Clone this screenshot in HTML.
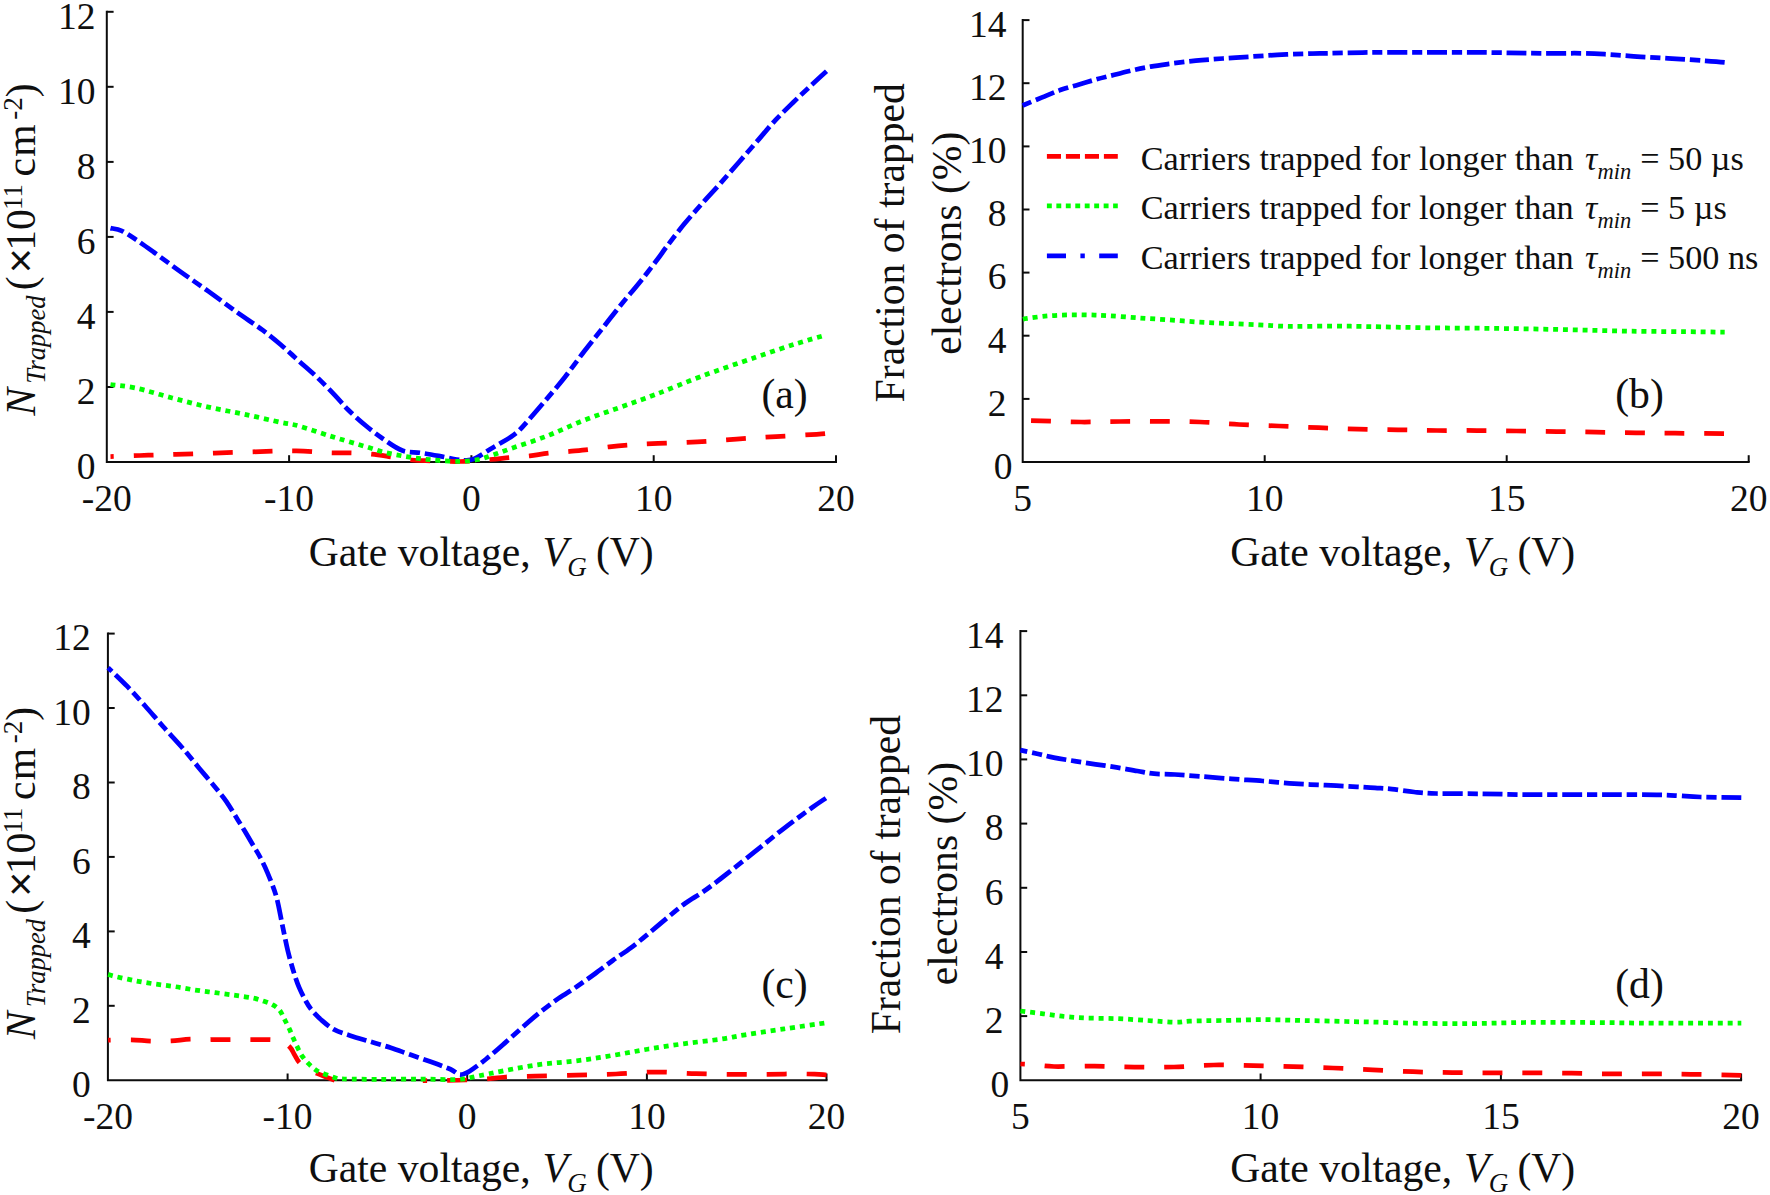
<!DOCTYPE html>
<html lang="en">
<head>
<meta charset="utf-8">
<title>Trapped carriers vs gate voltage</title>
<style>
html,body{margin:0;padding:0;background:#fff;}
body{width:1770px;height:1195px;overflow:hidden;}
svg{display:block;}
svg text{font-family:"Liberation Serif",serif;fill:#0f0f0f;}
</style>
</head>
<body>
<svg width="1770" height="1195" viewBox="0 0 1770 1195">
<rect width="1770" height="1195" fill="#ffffff"/>
<path d="M106.8 11.8 V462.0 H836" fill="none" stroke="#0c0c0c" stroke-width="2.0" stroke-linejoin="miter" stroke-linecap="square"/>
<path d="M289.1 462.0 v-6.8" stroke="#0c0c0c" stroke-width="2.0"/>
<path d="M471.4 462.0 v-6.8" stroke="#0c0c0c" stroke-width="2.0"/>
<path d="M653.7 462.0 v-6.8" stroke="#0c0c0c" stroke-width="2.0"/>
<path d="M836.0 462.0 v-6.8" stroke="#0c0c0c" stroke-width="2.0"/>
<path d="M106.8 387.0 h6.8" stroke="#0c0c0c" stroke-width="2.0"/>
<path d="M106.8 311.9 h6.8" stroke="#0c0c0c" stroke-width="2.0"/>
<path d="M106.8 236.9 h6.8" stroke="#0c0c0c" stroke-width="2.0"/>
<path d="M106.8 161.9 h6.8" stroke="#0c0c0c" stroke-width="2.0"/>
<path d="M106.8 86.8 h6.8" stroke="#0c0c0c" stroke-width="2.0"/>
<path d="M106.8 11.8 h6.8" stroke="#0c0c0c" stroke-width="2.0"/>
<text x="106.8" y="510.9" text-anchor="middle" font-size="37.5">-20</text>
<text x="289.1" y="510.9" text-anchor="middle" font-size="37.5">-10</text>
<text x="471.4" y="510.9" text-anchor="middle" font-size="37.5">0</text>
<text x="653.7" y="510.9" text-anchor="middle" font-size="37.5">10</text>
<text x="836.0" y="510.9" text-anchor="middle" font-size="37.5">20</text>
<text x="95.5" y="478.8" text-anchor="end" font-size="37.5">0</text>
<text x="95.5" y="403.8" text-anchor="end" font-size="37.5">2</text>
<text x="95.5" y="328.7" text-anchor="end" font-size="37.5">4</text>
<text x="95.5" y="253.7" text-anchor="end" font-size="37.5">6</text>
<text x="95.5" y="178.7" text-anchor="end" font-size="37.5">8</text>
<text x="95.5" y="103.6" text-anchor="end" font-size="37.5">10</text>
<text x="95.5" y="28.6" text-anchor="end" font-size="37.5">12</text>
<path d="M110.5 228.1 C112.4 228.6 117.4 228.9 121.7 230.8 C126.0 232.8 130.8 236.2 136.2 239.8 C141.6 243.4 146.7 247.1 154.2 252.5 C161.7 257.9 172.3 265.9 181.4 272.4 C190.5 278.9 199.5 284.9 208.5 291.4 C217.5 297.9 226.6 304.7 235.6 311.2 C244.6 317.7 255.2 324.6 262.7 330.2 C270.2 335.8 274.8 339.6 280.8 344.7 C286.8 349.8 292.9 355.6 298.9 361.0 C304.9 366.4 311.0 371.5 317.0 377.2 C323.0 382.9 329.8 389.9 335.0 395.3 C340.2 400.7 342.9 404.7 348.1 409.8 C353.3 414.9 360.2 421.0 366.2 426.0 C372.2 431.0 378.2 435.5 384.2 439.6 C390.2 443.7 396.3 448.3 402.3 450.5 C408.3 452.7 414.4 451.9 420.4 452.8 C426.4 453.7 432.5 454.8 438.5 455.9 C444.5 457.0 452.2 458.8 456.6 459.5 C461.0 460.2 461.7 460.5 464.7 460.4 C467.7 460.2 469.9 460.7 474.6 458.6 C479.3 456.5 486.7 451.3 492.7 447.7 C498.7 444.1 506.3 439.9 510.8 436.9 C515.3 433.9 516.8 432.6 519.8 429.7 C522.8 426.8 524.4 424.8 528.9 419.7 C533.4 414.6 540.6 406.2 546.6 399.1 C552.6 392.0 558.8 384.9 565.0 377.0 C571.2 369.1 577.6 359.9 583.9 351.7 C590.2 343.5 596.5 335.8 602.8 327.8 C609.1 319.9 615.3 311.7 621.6 304.0 C627.9 296.3 634.1 289.2 640.4 281.4 C646.7 273.6 654.9 262.6 659.2 257.0 C663.5 251.3 661.8 253.1 666.0 247.5 C670.2 241.9 678.5 231.0 684.6 223.6 C690.7 216.2 696.7 209.6 702.7 202.8 C708.7 196.0 714.8 189.7 720.8 182.9 C726.8 176.1 732.9 169.1 738.9 162.2 C744.9 155.3 751.0 148.3 757.0 141.4 C763.0 134.5 769.0 127.1 775.0 120.6 C781.0 114.1 787.1 108.4 793.1 102.5 C799.1 96.6 805.6 90.5 811.2 85.3 C816.8 80.1 824.0 73.5 826.6 71.2" fill="none" stroke="#0000ff" stroke-width="4.75" stroke-dasharray="19.89 4.82 10.25 4.82" stroke-dashoffset="6.03"/>
<path d="M110.5 456.6 C115.4 456.4 129.1 455.9 140.0 455.5 C150.9 455.1 157.2 455.0 175.7 454.4 C194.2 453.8 230.9 452.5 251.0 451.9 C271.1 451.3 283.0 450.6 296.2 450.8 C309.4 451.0 320.8 452.5 330.0 452.8 C339.2 453.1 344.8 452.6 351.7 452.8 C358.6 453.0 365.1 453.4 371.6 454.1 C378.1 454.8 384.0 455.8 390.6 456.8 C397.2 457.8 404.7 459.3 411.4 460.0 C418.1 460.7 422.9 460.6 431.0 460.8 C439.1 461.1 450.2 461.7 460.0 461.5 C469.8 461.3 481.8 460.1 490.0 459.5 C498.2 458.9 502.4 458.3 509.0 457.7 C515.6 457.1 523.2 456.6 529.8 455.9 C536.4 455.1 542.2 453.9 548.8 453.2 C555.4 452.4 563.0 452.0 569.6 451.4 C576.2 450.8 581.9 450.4 588.5 449.6 C595.1 448.8 602.8 447.6 609.3 446.8 C615.8 446.0 619.3 445.6 627.4 445.0 C635.5 444.4 646.4 443.9 658.0 443.4 C669.6 442.9 684.2 442.5 697.3 441.8 C710.4 441.1 723.5 440.0 736.6 439.1 C749.7 438.2 762.7 437.4 776.0 436.6 C789.3 435.8 808.2 434.8 816.6 434.3 C825.0 433.8 824.5 433.7 826.1 433.6" fill="none" stroke="#ff0000" stroke-width="4.75" stroke-dasharray="19.80 19.80" stroke-dashoffset="16.30"/>
<path d="M110.5 384.5 C114.8 385.1 125.9 385.9 136.2 388.1 C146.5 390.4 160.2 394.8 172.3 398.0 C184.4 401.2 196.4 404.4 208.5 407.1 C220.6 409.8 232.5 411.8 244.6 414.3 C256.6 416.9 271.8 420.4 280.8 422.4 C289.9 424.3 290.7 423.7 298.9 426.0 C307.1 428.3 321.8 433.4 330.0 436.0 C338.2 438.6 342.1 439.6 348.1 441.4 C354.1 443.2 360.2 445.0 366.2 446.8 C372.2 448.6 378.2 450.8 384.2 452.3 C390.2 453.8 396.3 454.8 402.3 455.9 C408.3 456.9 414.4 457.9 420.4 458.6 C426.4 459.4 431.9 459.9 438.5 460.4 C445.1 460.8 453.6 461.4 460.2 461.3 C466.8 461.2 472.9 460.6 478.3 459.5 C483.7 458.4 487.3 456.8 492.7 455.0 C498.1 453.2 501.8 451.8 510.8 448.6 C519.9 445.4 535.0 440.7 547.0 436.0 C559.0 431.3 571.1 425.3 583.1 420.6 C595.1 415.9 607.3 411.9 619.3 407.6 C631.3 403.3 641.6 399.8 655.3 394.6 C669.0 389.4 684.7 382.5 701.4 376.3 C718.1 370.1 739.8 362.7 755.6 357.3 C771.4 351.9 784.5 347.4 796.3 343.7 C808.0 340.0 821.1 336.4 826.1 334.9" fill="none" stroke="#00ff00" stroke-width="4.75" stroke-dasharray="4.95 4.88" stroke-dashoffset="0.00"/>
<path d="M1022.7 20.1 V462.0 H1748.7" fill="none" stroke="#0c0c0c" stroke-width="2.0" stroke-linejoin="miter" stroke-linecap="square"/>
<path d="M1264.7 462.0 v-6.8" stroke="#0c0c0c" stroke-width="2.0"/>
<path d="M1506.7 462.0 v-6.8" stroke="#0c0c0c" stroke-width="2.0"/>
<path d="M1748.7 462.0 v-6.8" stroke="#0c0c0c" stroke-width="2.0"/>
<path d="M1022.7 398.9 h6.8" stroke="#0c0c0c" stroke-width="2.0"/>
<path d="M1022.7 335.7 h6.8" stroke="#0c0c0c" stroke-width="2.0"/>
<path d="M1022.7 272.6 h6.8" stroke="#0c0c0c" stroke-width="2.0"/>
<path d="M1022.7 209.5 h6.8" stroke="#0c0c0c" stroke-width="2.0"/>
<path d="M1022.7 146.4 h6.8" stroke="#0c0c0c" stroke-width="2.0"/>
<path d="M1022.7 83.2 h6.8" stroke="#0c0c0c" stroke-width="2.0"/>
<path d="M1022.7 20.1 h6.8" stroke="#0c0c0c" stroke-width="2.0"/>
<text x="1022.7" y="510.6" text-anchor="middle" font-size="37.5">5</text>
<text x="1264.7" y="510.6" text-anchor="middle" font-size="37.5">10</text>
<text x="1506.7" y="510.6" text-anchor="middle" font-size="37.5">15</text>
<text x="1748.7" y="510.6" text-anchor="middle" font-size="37.5">20</text>
<text x="1012.6" y="478.8" text-anchor="end" font-size="37.5">0</text>
<text x="1006.6" y="415.7" text-anchor="end" font-size="37.5">2</text>
<text x="1006.6" y="352.5" text-anchor="end" font-size="37.5">4</text>
<text x="1006.6" y="289.4" text-anchor="end" font-size="37.5">6</text>
<text x="1006.6" y="226.3" text-anchor="end" font-size="37.5">8</text>
<text x="1006.6" y="163.2" text-anchor="end" font-size="37.5">10</text>
<text x="1006.6" y="100.0" text-anchor="end" font-size="37.5">12</text>
<text x="1006.6" y="36.9" text-anchor="end" font-size="37.5">14</text>
<path d="M1022.6 105.5 C1025.8 104.2 1035.8 100.0 1042.1 97.4 C1048.4 94.8 1054.2 92.2 1060.2 90.1 C1066.2 88.0 1072.3 86.5 1078.3 84.7 C1084.3 82.9 1090.4 81.0 1096.4 79.3 C1102.4 77.6 1108.4 76.3 1114.4 74.8 C1120.4 73.3 1126.5 71.7 1132.5 70.3 C1138.5 68.9 1144.6 67.7 1150.6 66.6 C1156.6 65.5 1161.2 64.9 1168.7 63.9 C1176.2 62.9 1186.8 61.6 1195.8 60.7 C1204.8 59.8 1213.9 59.2 1222.9 58.5 C1231.9 57.8 1241.0 57.3 1250.0 56.7 C1259.0 56.1 1268.2 55.4 1277.2 54.9 C1286.2 54.4 1296.0 54.1 1304.3 53.8 C1312.6 53.5 1316.1 53.5 1327.0 53.3 C1337.9 53.1 1354.3 52.6 1369.7 52.4 C1385.1 52.2 1402.8 52.3 1419.4 52.3 C1436.0 52.3 1454.2 52.2 1469.1 52.3 C1484.0 52.4 1496.5 52.6 1508.9 52.8 C1521.3 53.0 1531.7 53.3 1543.7 53.4 C1555.7 53.5 1570.6 53.1 1581.0 53.3 C1591.4 53.4 1597.6 53.8 1605.9 54.3 C1614.2 54.8 1622.4 55.5 1630.7 56.1 C1639.0 56.7 1647.3 57.1 1655.6 57.6 C1663.9 58.1 1672.1 58.6 1680.4 59.1 C1688.7 59.6 1697.9 60.3 1705.3 60.8 C1712.7 61.3 1721.5 62.0 1724.7 62.3" fill="none" stroke="#0000ff" stroke-width="4.75" stroke-dasharray="19.86 4.81 10.23 4.81" stroke-dashoffset="25.57"/>
<path d="M1022.7 420.3 C1025.8 420.4 1031.3 420.5 1041.0 420.8 C1050.7 421.1 1067.8 421.9 1081.0 422.0 C1094.2 422.1 1106.8 421.6 1120.0 421.5 C1133.2 421.4 1146.7 421.3 1160.0 421.4 C1173.3 421.5 1186.8 421.5 1200.0 422.0 C1213.2 422.5 1225.8 423.8 1239.0 424.5 C1252.2 425.2 1265.8 425.5 1279.0 426.0 C1292.2 426.5 1305.3 427.2 1318.5 427.7 C1331.7 428.2 1344.8 428.8 1358.0 429.1 C1371.2 429.5 1384.8 429.6 1398.0 429.8 C1411.2 430.0 1423.8 430.4 1437.0 430.5 C1450.2 430.6 1463.8 430.4 1477.0 430.5 C1490.2 430.6 1503.2 430.8 1516.5 431.0 C1529.8 431.2 1543.3 431.4 1556.6 431.6 C1569.8 431.8 1582.8 431.9 1596.0 432.1 C1609.2 432.3 1622.8 432.6 1636.0 432.8 C1649.2 433.0 1660.3 433.1 1675.0 433.2 C1689.7 433.3 1716.1 433.6 1724.3 433.7" fill="none" stroke="#ff0000" stroke-width="4.75" stroke-dasharray="19.80 19.80" stroke-dashoffset="31.10"/>
<path d="M1023.0 319.4 C1023.7 319.2 1023.1 319.0 1027.2 318.4 C1031.3 317.8 1040.7 316.5 1047.5 315.9 C1054.3 315.3 1061.1 315.1 1067.9 314.9 C1074.7 314.7 1081.4 314.8 1088.2 314.9 C1095.0 315.0 1100.5 315.2 1108.6 315.7 C1116.7 316.2 1127.2 317.1 1137.0 317.8 C1146.8 318.5 1157.3 319.1 1167.5 319.8 C1177.7 320.5 1187.8 321.4 1198.0 322.0 C1208.2 322.6 1218.3 323.0 1228.5 323.5 C1238.7 324.0 1249.5 324.4 1259.0 324.9 C1268.5 325.4 1277.7 326.1 1285.5 326.3 C1293.3 326.5 1296.6 326.3 1305.8 326.3 C1315.0 326.3 1329.7 326.1 1340.4 326.2 C1351.1 326.2 1355.4 326.3 1370.0 326.6 C1384.6 326.9 1406.9 327.5 1427.8 327.8 C1448.7 328.1 1473.0 328.1 1495.6 328.4 C1518.2 328.7 1540.8 329.1 1563.4 329.6 C1586.0 330.1 1608.6 330.8 1631.2 331.2 C1653.8 331.6 1683.4 331.6 1699.0 331.8 C1714.6 332.0 1720.4 332.1 1724.7 332.1" fill="none" stroke="#00ff00" stroke-width="4.75" stroke-dasharray="4.95 4.88" stroke-dashoffset="0.00"/>
<path d="M107.9 633.6 V1080.3 H826.5" fill="none" stroke="#0c0c0c" stroke-width="2.0" stroke-linejoin="miter" stroke-linecap="square"/>
<path d="M287.6 1080.3 v-6.8" stroke="#0c0c0c" stroke-width="2.0"/>
<path d="M467.2 1080.3 v-6.8" stroke="#0c0c0c" stroke-width="2.0"/>
<path d="M646.9 1080.3 v-6.8" stroke="#0c0c0c" stroke-width="2.0"/>
<path d="M826.5 1080.3 v-6.8" stroke="#0c0c0c" stroke-width="2.0"/>
<path d="M107.9 1005.8 h6.8" stroke="#0c0c0c" stroke-width="2.0"/>
<path d="M107.9 931.4 h6.8" stroke="#0c0c0c" stroke-width="2.0"/>
<path d="M107.9 856.9 h6.8" stroke="#0c0c0c" stroke-width="2.0"/>
<path d="M107.9 782.5 h6.8" stroke="#0c0c0c" stroke-width="2.0"/>
<path d="M107.9 708.0 h6.8" stroke="#0c0c0c" stroke-width="2.0"/>
<path d="M107.9 633.6 h6.8" stroke="#0c0c0c" stroke-width="2.0"/>
<text x="107.9" y="1128.9" text-anchor="middle" font-size="37.5">-20</text>
<text x="287.6" y="1128.9" text-anchor="middle" font-size="37.5">-10</text>
<text x="467.2" y="1128.9" text-anchor="middle" font-size="37.5">0</text>
<text x="646.9" y="1128.9" text-anchor="middle" font-size="37.5">10</text>
<text x="826.5" y="1128.9" text-anchor="middle" font-size="37.5">20</text>
<text x="90.8" y="1097.1" text-anchor="end" font-size="37.5">0</text>
<text x="90.8" y="1022.6" text-anchor="end" font-size="37.5">2</text>
<text x="90.8" y="948.2" text-anchor="end" font-size="37.5">4</text>
<text x="90.8" y="873.7" text-anchor="end" font-size="37.5">6</text>
<text x="90.8" y="799.3" text-anchor="end" font-size="37.5">8</text>
<text x="90.8" y="724.8" text-anchor="end" font-size="37.5">10</text>
<text x="90.8" y="650.4" text-anchor="end" font-size="37.5">12</text>
<path d="M108.1 667.7 C111.3 670.8 120.9 679.8 127.1 686.2 C133.3 692.6 139.2 699.2 145.2 706.0 C151.2 712.8 157.3 720.0 163.3 726.8 C169.3 733.6 175.4 739.8 181.4 746.7 C187.4 753.6 193.4 761.2 199.4 768.4 C205.4 775.6 213.0 784.5 217.5 790.1 C222.0 795.7 223.6 797.5 226.6 801.9 C229.6 806.3 232.6 811.5 235.6 816.3 C238.6 821.1 241.6 825.8 244.6 830.8 C247.6 835.8 251.1 841.8 253.7 846.2 C256.3 850.6 257.8 852.7 260.0 857.0 C262.2 861.3 264.5 865.6 267.2 872.1 C269.9 878.6 273.7 887.5 276.2 896.2 C278.7 904.9 280.3 915.3 282.2 924.3 C284.1 933.3 285.8 942.4 287.7 950.2 C289.6 958.0 291.5 964.8 293.4 971.0 C295.3 977.2 296.9 982.2 299.0 987.2 C301.1 992.2 303.7 997.2 305.8 1001.0 C307.9 1004.8 308.9 1006.5 311.5 1009.7 C314.1 1012.9 317.6 1016.7 321.4 1020.0 C325.2 1023.3 329.5 1027.1 334.4 1029.7 C339.2 1032.3 344.5 1033.7 350.5 1035.7 C356.5 1037.7 363.9 1039.7 370.6 1041.7 C377.3 1043.7 384.0 1045.6 390.7 1047.8 C397.4 1050.0 404.0 1052.5 410.7 1054.8 C417.4 1057.1 424.2 1059.4 430.8 1061.8 C437.4 1064.2 445.6 1067.2 450.5 1069.3 C455.4 1071.4 456.7 1074.3 459.9 1074.6 C463.1 1074.9 465.1 1073.8 469.5 1071.2 C473.9 1068.6 480.4 1063.6 486.2 1059.0 C492.0 1054.4 498.2 1048.9 504.2 1043.6 C510.2 1038.3 516.3 1032.7 522.3 1027.4 C528.3 1022.1 534.4 1016.8 540.4 1012.0 C546.4 1007.2 552.5 1002.6 558.5 998.4 C564.5 994.2 570.6 990.8 576.6 986.7 C582.6 982.6 588.6 978.4 594.6 974.0 C600.6 969.6 606.7 964.9 612.7 960.5 C618.7 956.1 624.8 952.3 630.8 947.8 C636.8 943.3 642.9 938.3 648.9 933.3 C654.9 928.3 661.0 923.0 667.0 918.0 C673.0 913.0 679.0 907.9 685.0 903.5 C691.0 899.1 697.1 896.0 703.1 891.8 C709.1 887.6 712.4 885.1 720.9 878.5 C729.4 871.9 743.6 860.7 754.2 852.2 C764.8 843.8 775.0 835.2 784.7 827.8 C794.4 820.3 805.3 812.5 812.2 807.5 C819.1 802.5 823.6 799.7 825.9 798.1" fill="none" stroke="#0000ff" stroke-width="4.75" stroke-dasharray="19.99 4.85 10.30 4.85" stroke-dashoffset="29.79"/>
<path d="M108.1 1040.2 C111.9 1040.1 124.1 1039.7 131.2 1039.8 C138.3 1039.9 144.1 1040.9 150.8 1041.1 C157.5 1041.3 164.6 1041.1 171.2 1040.8 C177.8 1040.5 183.5 1039.4 190.2 1039.2 C196.9 1039.0 204.4 1039.5 211.2 1039.5 C218.0 1039.5 224.1 1039.5 230.8 1039.5 C237.5 1039.5 244.5 1039.7 251.2 1039.7 C257.9 1039.7 265.8 1039.5 270.8 1039.7 C275.8 1039.9 277.8 1039.6 281.0 1040.8 C284.2 1042.0 287.6 1044.7 289.8 1047.0 C292.1 1049.3 292.9 1052.1 294.5 1054.7 C296.1 1057.3 297.2 1060.2 299.3 1062.5 C301.4 1064.8 304.1 1067.0 307.0 1068.8 C309.9 1070.6 312.3 1071.5 316.9 1073.4 C321.5 1075.3 331.7 1079.2 334.6 1080.3" fill="none" stroke="#ff0000" stroke-width="4.75" stroke-dasharray="19.94 19.94" stroke-dashoffset="17.12"/>
<path d="M422.8 1080.6 C426.8 1080.6 439.7 1080.5 446.9 1080.4 C454.1 1080.3 459.4 1080.2 466.0 1080.0 C472.6 1079.8 479.5 1079.4 486.2 1078.9 C492.9 1078.4 497.9 1077.5 506.0 1077.0 C514.1 1076.5 523.3 1076.5 535.0 1076.2 C546.7 1075.9 562.5 1075.6 576.0 1075.2 C589.5 1074.8 602.7 1074.5 616.0 1074.0 C629.3 1073.5 642.7 1072.0 656.0 1072.0 C669.3 1072.0 682.7 1073.3 696.0 1073.7 C709.3 1074.1 724.2 1074.3 736.0 1074.4 C747.8 1074.5 755.2 1074.4 767.0 1074.3 C778.8 1074.2 796.8 1073.7 806.7 1073.8 C816.6 1073.9 823.3 1074.8 826.6 1075.0" fill="none" stroke="#ff0000" stroke-width="4.75" stroke-dasharray="19.99 19.99" stroke-dashoffset="15.65"/>
<path d="M108.1 974.4 C109.2 974.7 110.6 975.4 114.9 976.4 C119.2 977.4 127.4 979.2 133.9 980.5 C140.4 981.8 147.4 982.9 154.2 983.9 C161.0 984.9 167.8 985.6 174.6 986.6 C181.4 987.6 188.1 989.0 194.9 990.0 C201.7 991.0 208.5 991.8 215.3 992.7 C222.1 993.6 229.3 994.5 235.6 995.4 C241.9 996.3 248.4 997.1 253.2 998.1 C257.9 999.1 260.8 1000.2 264.1 1001.3 C267.4 1002.4 270.3 1003.4 272.9 1004.9 C275.5 1006.4 277.8 1007.9 279.7 1010.3 C281.6 1012.7 282.8 1016.2 284.4 1019.2 C286.0 1022.2 287.7 1025.4 289.2 1028.6 C290.7 1031.8 291.8 1035.0 293.2 1038.1 C294.6 1041.1 295.8 1044.0 297.3 1046.9 C298.8 1049.9 300.1 1053.0 302.0 1055.8 C303.9 1058.6 306.3 1061.4 308.8 1063.9 C311.3 1066.4 314.0 1068.9 316.9 1070.7 C319.8 1072.5 323.2 1073.5 326.4 1074.7 C329.6 1075.9 332.9 1077.4 335.9 1078.1 C338.9 1078.8 337.1 1078.8 344.5 1079.0 C351.9 1079.2 367.9 1079.3 380.6 1079.3 C393.3 1079.3 408.0 1079.0 420.8 1079.0 C433.6 1079.0 447.8 1080.1 457.2 1079.6 C466.6 1079.1 469.3 1077.7 477.1 1076.2 C484.9 1074.7 493.6 1072.7 504.2 1070.7 C514.8 1068.7 528.3 1066.1 540.4 1064.4 C552.5 1062.8 564.5 1062.3 576.6 1060.8 C588.7 1059.3 600.7 1057.4 612.7 1055.4 C624.8 1053.4 636.9 1051.0 648.9 1049.0 C660.9 1047.0 673.0 1045.2 685.0 1043.6 C697.0 1041.9 711.2 1040.6 721.2 1039.1 C731.2 1037.6 734.7 1036.5 745.2 1034.8 C755.7 1033.1 770.6 1030.9 784.1 1028.9 C797.6 1026.9 819.0 1023.8 826.0 1022.8" fill="none" stroke="#00ff00" stroke-width="4.75" stroke-dasharray="4.95 4.88" stroke-dashoffset="0.00"/>
<path d="M1020.4 631.1 V1080.3 H1741.1" fill="none" stroke="#0c0c0c" stroke-width="2.0" stroke-linejoin="miter" stroke-linecap="square"/>
<path d="M1260.6 1080.3 v-6.8" stroke="#0c0c0c" stroke-width="2.0"/>
<path d="M1500.9 1080.3 v-6.8" stroke="#0c0c0c" stroke-width="2.0"/>
<path d="M1741.1 1080.3 v-6.8" stroke="#0c0c0c" stroke-width="2.0"/>
<path d="M1020.4 1016.1 h6.8" stroke="#0c0c0c" stroke-width="2.0"/>
<path d="M1020.4 952.0 h6.8" stroke="#0c0c0c" stroke-width="2.0"/>
<path d="M1020.4 887.8 h6.8" stroke="#0c0c0c" stroke-width="2.0"/>
<path d="M1020.4 823.6 h6.8" stroke="#0c0c0c" stroke-width="2.0"/>
<path d="M1020.4 759.4 h6.8" stroke="#0c0c0c" stroke-width="2.0"/>
<path d="M1020.4 695.3 h6.8" stroke="#0c0c0c" stroke-width="2.0"/>
<path d="M1020.4 631.1 h6.8" stroke="#0c0c0c" stroke-width="2.0"/>
<text x="1020.4" y="1128.9" text-anchor="middle" font-size="37.5">5</text>
<text x="1260.6" y="1128.9" text-anchor="middle" font-size="37.5">10</text>
<text x="1500.9" y="1128.9" text-anchor="middle" font-size="37.5">15</text>
<text x="1741.1" y="1128.9" text-anchor="middle" font-size="37.5">20</text>
<text x="1009.3" y="1097.1" text-anchor="end" font-size="37.5">0</text>
<text x="1003.5" y="1032.9" text-anchor="end" font-size="37.5">2</text>
<text x="1003.5" y="968.8" text-anchor="end" font-size="37.5">4</text>
<text x="1003.5" y="904.6" text-anchor="end" font-size="37.5">6</text>
<text x="1003.5" y="840.4" text-anchor="end" font-size="37.5">8</text>
<text x="1003.5" y="776.2" text-anchor="end" font-size="37.5">10</text>
<text x="1003.5" y="712.1" text-anchor="end" font-size="37.5">12</text>
<text x="1003.5" y="647.9" text-anchor="end" font-size="37.5">14</text>
<path d="M1020.4 750.1 C1023.2 750.7 1031.5 752.5 1037.1 753.8 C1042.7 755.0 1047.5 756.4 1053.8 757.6 C1060.1 758.8 1067.7 760.0 1074.7 761.1 C1081.7 762.2 1088.6 763.2 1095.6 764.3 C1102.6 765.3 1109.5 766.3 1116.5 767.4 C1123.5 768.5 1131.1 770.0 1137.4 771.0 C1143.7 772.0 1147.8 773.1 1154.1 773.7 C1160.4 774.3 1167.3 774.0 1175.0 774.5 C1182.7 775.0 1190.7 775.7 1200.1 776.4 C1209.5 777.1 1221.0 778.1 1231.5 778.9 C1242.0 779.7 1252.3 780.2 1262.8 781.0 C1273.2 781.8 1283.8 783.0 1294.2 783.7 C1304.7 784.4 1315.0 784.7 1325.5 785.2 C1336.0 785.7 1348.7 786.3 1356.9 786.8 C1365.2 787.2 1369.2 787.5 1375.0 787.9 C1380.8 788.3 1385.5 788.4 1392.0 789.1 C1398.5 789.8 1406.8 791.3 1414.1 792.0 C1421.4 792.7 1425.1 793.2 1436.1 793.5 C1447.1 793.8 1465.5 793.6 1480.2 793.8 C1494.9 794.0 1509.5 794.5 1524.2 794.6 C1538.9 794.7 1553.6 794.6 1568.3 794.6 C1583.0 794.6 1597.7 794.6 1612.4 794.6 C1627.1 794.6 1645.5 794.6 1656.5 794.8 C1667.5 795.0 1671.2 795.3 1678.5 795.7 C1685.8 796.1 1690.0 796.7 1700.5 797.0 C1711.0 797.3 1734.5 797.6 1741.3 797.7" fill="none" stroke="#0000ff" stroke-width="4.75" stroke-dasharray="19.91 4.83 10.26 4.83" stroke-dashoffset="12.87"/>
<path d="M1020.4 1064.0 C1022.7 1064.1 1028.4 1064.4 1034.0 1064.8 C1039.6 1065.2 1043.9 1066.3 1054.0 1066.5 C1064.1 1066.7 1081.2 1066.0 1094.6 1066.1 C1108.0 1066.2 1121.1 1066.9 1134.3 1067.1 C1147.5 1067.2 1160.8 1067.3 1174.0 1067.0 C1187.2 1066.7 1200.5 1065.2 1213.7 1065.0 C1226.9 1064.8 1240.2 1065.4 1253.4 1065.7 C1266.6 1066.0 1279.7 1066.2 1293.0 1066.6 C1306.3 1067.0 1319.7 1067.5 1333.0 1068.0 C1346.3 1068.5 1359.3 1069.2 1372.6 1069.8 C1385.9 1070.4 1399.7 1071.2 1413.0 1071.7 C1426.3 1072.2 1439.3 1072.4 1452.5 1072.6 C1465.7 1072.8 1478.8 1072.8 1492.0 1072.8 C1505.2 1072.8 1518.4 1072.7 1531.7 1072.8 C1545.0 1072.9 1558.3 1073.0 1571.6 1073.2 C1584.9 1073.4 1598.0 1073.8 1611.3 1073.9 C1624.6 1074.0 1638.2 1073.8 1651.4 1073.9 C1664.7 1074.0 1675.8 1074.0 1690.8 1074.3 C1705.8 1074.5 1732.9 1075.2 1741.3 1075.4" fill="none" stroke="#ff0000" stroke-width="4.75" stroke-dasharray="19.91 19.91" stroke-dashoffset="15.38"/>
<path d="M1020.4 1011.0 C1024.2 1011.5 1036.1 1012.9 1043.4 1013.8 C1050.7 1014.7 1057.3 1015.8 1064.3 1016.5 C1071.3 1017.2 1076.5 1017.6 1085.2 1018.0 C1093.9 1018.4 1106.0 1018.2 1116.5 1018.6 C1127.0 1019.0 1138.2 1019.9 1147.9 1020.5 C1157.7 1021.1 1168.0 1022.1 1175.0 1022.2 C1182.0 1022.3 1182.0 1021.4 1189.7 1021.1 C1197.4 1020.8 1208.8 1020.7 1221.0 1020.5 C1233.2 1020.3 1248.9 1019.7 1262.8 1019.7 C1276.7 1019.7 1290.7 1020.2 1304.6 1020.5 C1318.5 1020.8 1334.7 1021.2 1346.4 1021.5 C1358.1 1021.8 1363.7 1021.8 1375.0 1022.1 C1386.3 1022.4 1398.4 1023.0 1414.1 1023.2 C1429.8 1023.5 1450.8 1023.7 1469.2 1023.6 C1487.6 1023.5 1504.1 1022.7 1524.3 1022.5 C1544.5 1022.3 1568.4 1022.4 1590.4 1022.5 C1612.4 1022.6 1631.3 1023.1 1656.5 1023.2 C1681.7 1023.3 1727.2 1023.2 1741.3 1023.2" fill="none" stroke="#00ff00" stroke-width="4.75" stroke-dasharray="4.95 4.88" stroke-dashoffset="0.00"/>
<text transform="translate(308.7 565.5)" font-size="41.67"><tspan x="0">Gate voltage,</tspan><tspan x="233.9" font-style="italic">V</tspan><tspan x="258.5" font-style="italic" font-size="27.0" dy="10.3">G</tspan><tspan x="287.2" dy="-10.3">(V)</tspan></text>
<text transform="translate(1230.2 565.5)" font-size="41.67"><tspan x="0">Gate voltage,</tspan><tspan x="233.9" font-style="italic">V</tspan><tspan x="258.5" font-style="italic" font-size="27.0" dy="10.3">G</tspan><tspan x="287.2" dy="-10.3">(V)</tspan></text>
<text transform="translate(308.7 1181.5)" font-size="41.67"><tspan x="0">Gate voltage,</tspan><tspan x="233.9" font-style="italic">V</tspan><tspan x="258.5" font-style="italic" font-size="27.0" dy="10.3">G</tspan><tspan x="287.2" dy="-10.3">(V)</tspan></text>
<text transform="translate(1230.2 1181.5)" font-size="41.67"><tspan x="0">Gate voltage,</tspan><tspan x="233.9" font-style="italic">V</tspan><tspan x="258.5" font-style="italic" font-size="27.0" dy="10.3">G</tspan><tspan x="287.2" dy="-10.3">(V)</tspan></text>
<text transform="translate(35 415.8) rotate(-90)" font-size="41.67"><tspan x="0" font-style="italic">N</tspan><tspan x="32" font-style="italic" font-size="26.5" dy="10.2">Trapped</tspan><tspan x="125.5" dy="-10.2">(</tspan><tspan x="142.5" font-family="Liberation Sans, sans-serif" font-size="43">×</tspan><tspan x="165">10</tspan><tspan x="205.8" font-size="27.0" dy="-13.5">11</tspan><tspan x="239.3" dy="13.5" letter-spacing="1.2">cm</tspan><tspan x="296" font-size="27.0" dy="-13.5">-2</tspan><tspan x="318.5" dy="13.5">)</tspan></text>
<text transform="translate(35 1039.3) rotate(-90)" font-size="41.67"><tspan x="0" font-style="italic">N</tspan><tspan x="32" font-style="italic" font-size="26.5" dy="10.2">Trapped</tspan><tspan x="125.5" dy="-10.2">(</tspan><tspan x="142.5" font-family="Liberation Sans, sans-serif" font-size="43">×</tspan><tspan x="165">10</tspan><tspan x="205.8" font-size="27.0" dy="-13.5">11</tspan><tspan x="239.3" dy="13.5" letter-spacing="1.2">cm</tspan><tspan x="296" font-size="27.0" dy="-13.5">-2</tspan><tspan x="318.5" dy="13.5">)</tspan></text>
<text transform="translate(903.7 402.4) rotate(-90)" font-size="41.67">Fraction of trapped</text>
<text transform="translate(961.2 354.8) rotate(-90)" font-size="41.67">electrons (%)</text>
<text transform="translate(899.5 1034.2) rotate(-90)" font-size="41.67">Fraction of trapped</text>
<text transform="translate(956.7 985.2) rotate(-90)" font-size="41.67">electrons (%)</text>
<text x="761.4" y="408.2" font-size="41.67">(a)</text>
<text x="1615.2" y="408.2" font-size="41.67">(b)</text>
<text x="761.4" y="998.2" font-size="41.67">(c)</text>
<text x="1615.2" y="998.2" font-size="41.67">(d)</text>
<path d="M1046.9 156.4 H1117.8" stroke="#ff0000" stroke-width="4.75" stroke-dasharray="14.1 4.9"/>
<text y="170.0" font-size="34.2"><tspan x="1140.8">Carriers trapped for longer than</tspan><tspan x="1585" font-style="italic">τ</tspan><tspan x="1597.6" font-style="italic" font-size="22.5" dy="8.6">min</tspan><tspan x="1640.3" dy="-8.6">= 50 µs</tspan></text>
<path d="M1046.9 205.8 H1117.8" stroke="#00ff00" stroke-width="4.75" stroke-dasharray="4.9 4.56"/>
<text y="219.4" font-size="34.2"><tspan x="1140.8">Carriers trapped for longer than</tspan><tspan x="1585" font-style="italic">τ</tspan><tspan x="1597.6" font-style="italic" font-size="22.5" dy="8.6">min</tspan><tspan x="1640.3" dy="-8.6">= 5 µs</tspan></text>
<path d="M1046.9 255.8 H1117.8" stroke="#0000ff" stroke-width="4.75" stroke-dasharray="19.1 14.4 4.4 14.4"/>
<text y="269.40000000000003" font-size="34.2"><tspan x="1140.8">Carriers trapped for longer than</tspan><tspan x="1585" font-style="italic">τ</tspan><tspan x="1597.6" font-style="italic" font-size="22.5" dy="8.6">min</tspan><tspan x="1640.3" dy="-8.6">= 500 ns</tspan></text>
</svg>
</body>
</html>
